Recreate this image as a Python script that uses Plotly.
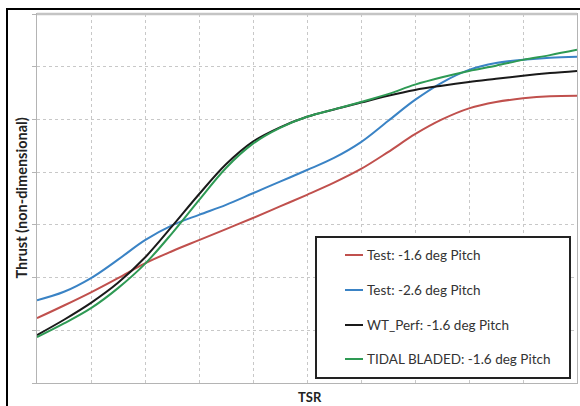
import plotly.graph_objects as go

# ---- data (x in grid units of TSR, y in grid units of thrust; axes unlabeled) ----
tsr = [0, 0.5, 1, 1.5, 2, 2.5, 3, 3.5, 4, 4.5, 5, 5.5, 6, 6.5, 7, 7.5, 8, 8.5, 9, 9.5, 10]

test_16 = [1.23, 1.47, 1.72, 1.99, 2.27, 2.50, 2.71, 2.92, 3.13, 3.35, 3.57, 3.80,
           4.06, 4.38, 4.72, 5.00, 5.21, 5.33, 5.40, 5.44, 5.45]
test_26 = [1.57, 1.73, 1.99, 2.34, 2.71, 2.99, 3.19, 3.38, 3.60, 3.82, 4.04, 4.27,
           4.57, 4.97, 5.37, 5.70, 5.94, 6.07, 6.13, 6.17, 6.19]
wt_perf = [0.91, 1.20, 1.52, 1.90, 2.38, 2.97, 3.58, 4.15, 4.58, 4.85, 5.05, 5.19,
           5.32, 5.45, 5.56, 5.64, 5.71, 5.77, 5.83, 5.88, 5.92]
tidal_bladed = [0.87, 1.13, 1.42, 1.80, 2.26, 2.84, 3.47, 4.08, 4.54, 4.84, 5.05, 5.19,
                5.33, 5.48, 5.66, 5.80, 5.92, 6.02, 6.13, 6.22, 6.32]

series_names = ["Test: -1.6 deg Pitch", "Test: -2.6 deg Pitch",
                "WT_Perf: -1.6 deg Pitch", "TIDAL BLADED: -1.6 deg Pitch"]
series_values = [test_16, test_26, wt_perf, tidal_bladed]
series_colors = ["#c0504d", "#3a83c5", "#1a1a1a", "#2e9a54"]

# ---- layout geometry (pixels) ----
W, H = 580, 406
L, R, T, B = 37, 3, 14, 23
PW, PH = W - L - R, H - T - B


def xp(px):
    return (px - L) / PW


def yp(py):
    return (H - B - py) / PH


fig = go.Figure()
for name, vals, col in zip(series_names, series_values, series_colors):
    fig.add_trace(go.Scatter(x=tsr, y=vals, mode="lines", name=name,
                             line=dict(color=col, width=2, shape="spline", smoothing=1.0),
                             showlegend=False))

shapes = []
annotations = []

# legend box (drawn manually to match reference)
shapes.append(dict(type="rect", xref="paper", yref="paper",
                   x0=xp(316), x1=xp(570), y0=yp(378), y1=yp(237),
                   line=dict(color="#222222", width=2), fillcolor="white", layer="above"))
entry_y = [255, 290, 325, 359]
for name, col, ey in zip(series_names, series_colors, entry_y):
    shapes.append(dict(type="line", xref="paper", yref="paper",
                       x0=xp(345), x1=xp(363), y0=yp(ey), y1=yp(ey),
                       line=dict(color=col, width=2), layer="above"))
    annotations.append(dict(xref="paper", yref="paper", x=xp(365), y=yp(ey),
                            xanchor="left", yanchor="middle", showarrow=False,
                            text=name, font=dict(family="Lato", size=13.5, color="#333333")))

# top plot border (thicker light gray)
shapes.append(dict(type="line", xref="paper", yref="paper", x0=0, x1=1, y0=1, y1=1,
                   line=dict(color="#c4c4c4", width=2.5)))
# image frame (black) on left and top
shapes.append(dict(type="line", xref="paper", yref="paper",
                   x0=xp(7), x1=xp(7), y0=yp(406), y1=yp(8),
                   line=dict(color="black", width=2)))
shapes.append(dict(type="line", xref="paper", yref="paper",
                   x0=xp(6), x1=xp(580), y0=yp(9), y1=yp(9),
                   line=dict(color="black", width=2)))

# axis titles
annotations.append(dict(xref="paper", yref="paper", x=xp(21), y=0.5, textangle=-90,
                        xanchor="center", yanchor="middle", showarrow=False,
                        text="<b>Thrust (non-dimensional)</b>",
                        font=dict(family="Lato", size=14.5, color="#222222")))
annotations.append(dict(xref="paper", yref="paper", x=xp(310), y=yp(397),
                        xanchor="center", yanchor="middle", showarrow=False,
                        text="<b>TSR</b>",
                        font=dict(family="Lato", size=13, color="#222222")))

fig.update_layout(
    width=W, height=H,
    margin=dict(l=L, r=R, t=T, b=B, pad=0),
    paper_bgcolor="white", plot_bgcolor="white",
    shapes=shapes, annotations=annotations,
    xaxis=dict(range=[0, 10], dtick=1, showticklabels=False, ticks="",
               showgrid=True, gridcolor="#c8c8c8", griddash="dot", gridwidth=1,
               showline=True, linecolor="#b4b4b4", linewidth=1, mirror=True,
               zeroline=False, fixedrange=True),
    yaxis=dict(range=[0, 7], dtick=1, showticklabels=False, ticks="outside", ticklen=4,
               tickcolor="#b4b4b4",
               showgrid=True, gridcolor="#c8c8c8", griddash="dot", gridwidth=1,
               showline=True, linecolor="#b4b4b4", linewidth=1, mirror=True,
               zeroline=False, fixedrange=True),
)

fig.write_html("out.html", config={"displayModeBar": False},
               post_script="document.body.style.margin='0';document.body.style.padding='0';")
